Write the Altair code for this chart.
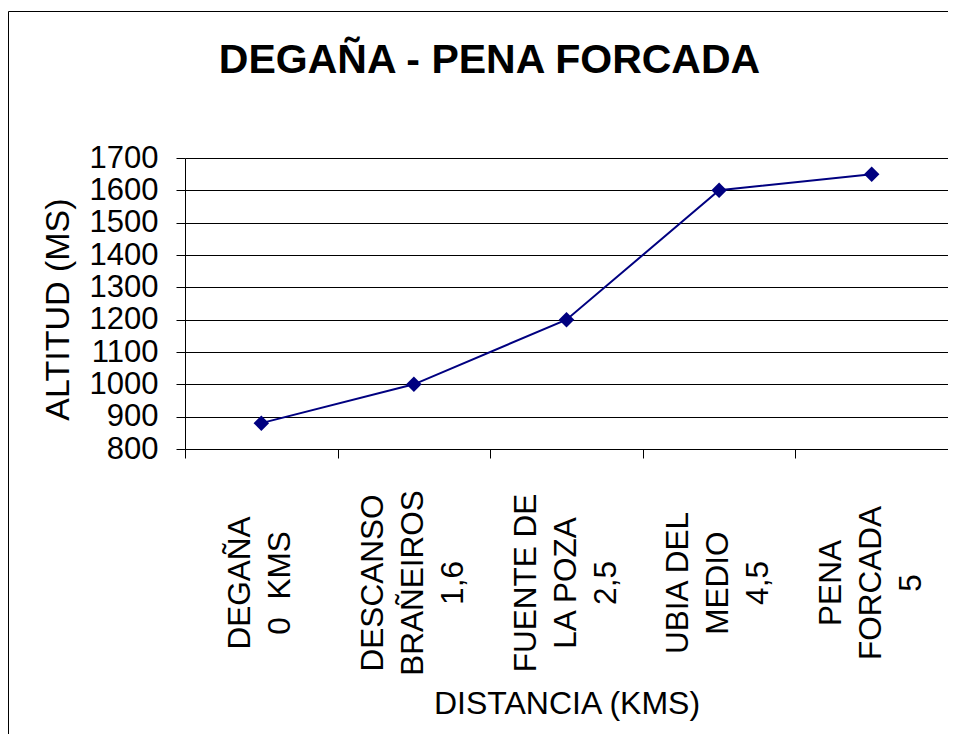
import altair as alt
import pandas as pd

# ---- data ----
categories = [
    "DEGAÑA|0\u00a0 KMS",
    "DESCANSO|BRAÑEIROS|1,6",
    "FUENTE DE|LA POZA|2,5",
    "UBIA DEL|MEDIO|4,5",
    "PENA|FORCADA|5",
]
altitudes = [880, 1000, 1200, 1600, 1650]
y_ticks = [800, 900, 1000, 1100, 1200, 1300, 1400, 1500, 1600, 1700]

df = pd.DataFrame({"lugar": categories, "altitud": altitudes})

FONT = "Liberation Sans"
NAVY = "#000080"
W, H = 763, 291
PAD = {"left": 177, "top": 150, "right": 0, "bottom": 285}
LH = 40
HALF_BAND = W / len(categories) / 2

x_enc = alt.X(
    "lugar:N",
    sort=categories,
    scale=alt.Scale(type="band", paddingInner=0, paddingOuter=0),
    axis=alt.Axis(
        title="DISTANCIA (KMS)",
        labels=False,
        tickBand="extent",
        tickSize=9,
        tickColor="black",
        domainColor="black",
        grid=False,
        titleFont=FONT,
        titleFontSize=32,
        titleFontWeight="normal",
        titleColor="black",
        titleBaseline="alphabetic",
        titleY=264,
    ),
)

y_enc = alt.Y(
    "altitud:Q",
    scale=alt.Scale(domain=[800, 1700], nice=False, zero=False),
    axis=alt.Axis(
        title="ALTITUD (MS)",
        values=y_ticks,
        format="d",
        grid=True,
        gridColor="black",
        gridOpacity=1,
        gridWidth=1,
        tickSize=9,
        tickColor="black",
        domainColor="black",
        labelFontSize=31,
        labelFont=FONT,
        labelColor="black",
        labelPadding=18,
        titleFont=FONT,
        titleFontSize=34,
        titleFontWeight="normal",
        titleColor="black",
        titleAngle=270,
        titleAlign="center",
        titleBaseline="middle",
        titleX=-127,
        titleY=151,
    ),
)

base = alt.Chart(df).encode(x=x_enc, y=y_enc)
line = base.mark_line(color=NAVY, strokeWidth=2)
points = base.mark_point(shape="diamond", filled=True, size=240, color=NAVY, opacity=1)

# category labels: rotated, multi-line, each line centred on its band
labels = (
    alt.Chart(df)
    .transform_calculate(parts="split(datum.lugar, '|')")
    .transform_flatten(["parts"])
    .transform_window(idx="row_number()", groupby=["lugar"])
    .transform_joinaggregate(n="count()", groupby=["lugar"])
    .transform_calculate(
        off=f"(datum.idx - 1 - (datum.n - 1) / 2) * {LH} + {HALF_BAND}"
    )
    .mark_text(
        angle=270,
        align="center",
        baseline="middle",
        font=FONT,
        fontSize=31.5,
        color="black",
    )
    .encode(
        x=x_enc,
        xOffset=alt.XOffset("off:Q", scale=None),
        y=alt.value(H + 134),
        text="parts:N",
    )
)

one = alt.Data(values=[{"k": 0}])
frame_top = alt.Chart(one).mark_rule(color="black", strokeWidth=1).encode(
    x=alt.value(-176.5), x2=alt.value(W), y=alt.value(-146.5)
)
frame_left = alt.Chart(one).mark_rule(color="black", strokeWidth=1).encode(
    x=alt.value(-176.5), y=alt.value(-146.5), y2=alt.value(H + PAD["bottom"])
)

chart = alt.layer(frame_top, frame_left, line, points, labels).properties(
    width=W,
    height=H,
    padding=PAD,
    autosize=alt.AutoSizeParams(type="none"),
    background="white",
    title=alt.TitleParams(
        "DEGAÑA - PENA FORCADA",
        font=FONT,
        fontSize=41,
        fontWeight="bold",
        color="black",
        anchor="middle",
        baseline="alphabetic",
        offset=0,
        dx=-77,
        dy=103,
    ),
).configure_view(stroke=None)

chart.save("out.html", embed_options={"renderer": "svg", "actions": False})
